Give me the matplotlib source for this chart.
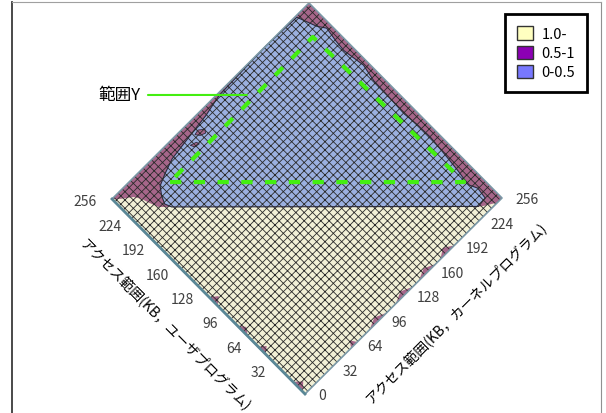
import numpy as np
import matplotlib
matplotlib.use("Agg")
import matplotlib.pyplot as plt
from matplotlib.patches import Patch
from matplotlib.transforms import Affine2D, offset_copy

plt.rcParams["font.family"] = ["Noto Sans CJK JP", "DejaVu Sans"]
plt.rcParams["hatch.linewidth"] = 0.6

# axis ticks (KB)
user_ticks = [32, 64, 96, 128, 160, 192, 224, 256]
kernel_ticks = [0, 32, 64, 96, 128, 160, 192, 224, 256]

# whole map: user KB x kernel KB
diamond_u = [0, 256, 256, 0]
diamond_k = [0, 0, 256, 256]

# 0.5-1 area (upper half, under the blue one)
mauve_u = [256, 251, 243, 236.5, 228.6, 220, 8, 0, 0, 256]
mauve_k = [0, 5, 15.5, 19.5, 22, 25.4, 237, 250, 256, 256]

# 0-0.5 area
blue_u = [211.5, 10, 11, 22.5, 30, 37.8, 48.3, 63.4, 87, 104.8, 120, 144, 162,
          179, 201.4, 213, 227.7, 235.5, 254.6, 256, 254, 249.4, 248, 245,
          243, 237.8, 233, 225.3, 218]
blue_k = [33.9, 235, 245, 246.5, 243, 243.5, 245, 246.5, 248.5, 248, 246.5,
          247.5, 248, 251.4, 248, 249, 251.3, 246, 238.8, 200, 137,
          115.4, 103.5, 80.5, 65.4, 51, 40, 34.5, 31.3]

# 0.5-1 islands inside the blue area
island_u = [[244, 240, 238, 241, 245], [240, 236, 235, 238]]
island_k = [[96, 99, 104, 106, 101], [86, 88, 93, 92]]

# small 0.5-1 spots along the lower edges: (start, end, depth) in KB
user_edge_spots = [(3, 16, 7), (52, 62, 6), (76, 90, 5), (116, 127, 7)]
kernel_edge_spots = [(60, 68, 6), (84, 106, 5), (118, 140, 5),
                     (148, 170, 5), (176, 194, 6)]

# range Y triangle
range_y_u = [229, 35.5, 231, 229]
range_y_k = [49, 241.5, 236.5, 49]
range_y_label_at = (236, 155.8)

legend_labels = ["1.0-", "0.5-1", "0-0.5"]
legend_colors = ["#ffffc0", "#8c00b4", "#7878ff"]
area_colors = ["#f2f0d6", "#a6668a", "#9bb0e0"]

user_title = "アクセス範囲(KB，ユーザプログラム)"
kernel_title = "アクセス範囲(KB，カーネルプログラム)"

fig = plt.figure(figsize=(6.06, 4.14), dpi=100)
# axes in pixel units, its spines make the outer frame
ax = fig.add_axes([12 / 606, 0, (601 - 12) / 606, (414 - 3) / 414])
ax.set_xlim(12, 601)
ax.set_ylim(414, 3)
ax.set_xticks([])
ax.set_yticks([])
ax.spines["bottom"].set_visible(False)
ax.spines["left"].set_color("#3a3a3a")
ax.spines["left"].set_linewidth(1.3)
ax.spines["top"].set_color("#a0a0a0")
ax.spines["right"].set_color("#909090")

# KB (user, kernel) -> screen, square turned 45 degrees
kb = Affine2D(np.array([[-193 / 256, 197 / 256, 305],
                        [-195 / 256, -196 / 256, 395],
                        [0, 0, 1]])) + ax.transData

ax.fill(diamond_u, diamond_k, transform=kb, facecolor=area_colors[0],
        edgecolor="none")
ax.fill(mauve_u, mauve_k, transform=kb, facecolor=area_colors[1],
        edgecolor="none")
for a, b, dep in user_edge_spots:
    ax.fill([a, (a + b) / 2, b], [0, dep, 0], transform=kb,
            facecolor=area_colors[1], edgecolor="none")
for a, b, dep in kernel_edge_spots:
    ax.fill([0, dep, 0], [a, (a + b) / 2, b], transform=kb,
            facecolor=area_colors[1], edgecolor="none")
ax.fill(blue_u, blue_k, transform=kb, facecolor=area_colors[2],
        edgecolor="#2b2b40", linewidth=0.8)
for iu, ik in zip(island_u, island_k):
    ax.fill(iu, ik, transform=kb, facecolor=area_colors[1],
            edgecolor="#2b2b40", linewidth=0.6)

# cross hatch over the map
ax.fill(diamond_u, diamond_k, transform=kb, facecolor="none",
        edgecolor="#2a2a2a", linewidth=0, hatch="xxxx")
ax.plot(diamond_u + [0], diamond_k + [0], transform=kb, color="#7a98a6",
        linewidth=1.2)
ax.plot(diamond_u[:2], diamond_k[:2], transform=kb, color="#5a8796",
        linewidth=2)

ax.plot(range_y_u, range_y_k, transform=kb, color="#44ee11", linewidth=3,
        dashes=(2.7, 3.0), solid_capstyle="butt", dash_capstyle="butt")
ax.annotate("範囲Y", xy=range_y_label_at, xycoords=kb, xytext=(141, 96),
            textcoords="data", ha="right", va="center", fontsize=12,
            arrowprops=dict(arrowstyle="-", color="#44ee11", lw=1.5,
                            shrinkA=3, shrinkB=0))

tick_style = dict(fontsize=10, color="#404040", va="center")
left_tr = offset_copy(kb, fig=fig, x=-15, y=-2.5, units="dots")
for u in user_ticks:
    ax.text(u, 0, str(u), transform=left_tr, ha="right", **tick_style)
right_tr = offset_copy(kb, fig=fig, x=13, y=-1.5, units="dots")
for k in kernel_ticks:
    ax.text(0, k, str(k), transform=right_tr, ha="left", **tick_style)

ax.text(165, 325, user_title, rotation=-45.3, ha="center", va="center",
        rotation_mode="anchor", fontsize=10)
ax.text(456, 313, kernel_title, rotation=44.9, ha="center", va="center",
        rotation_mode="anchor", fontsize=10)

handles = [Patch(facecolor=c, edgecolor="#333333", linewidth=1)
           for c in legend_colors]
leg = ax.legend(handles, legend_labels, loc="upper left",
                bbox_to_anchor=(505, 15), bbox_transform=ax.transData,
                fancybox=False, edgecolor="black", framealpha=1,
                fontsize=10.5, handlelength=1.05, handleheight=1.05,
                handletextpad=0.6, labelspacing=0.3, borderpad=0.85,
                borderaxespad=0)
leg.get_frame().set_linewidth(2)

fig.savefig("out.png", dpi=100)
